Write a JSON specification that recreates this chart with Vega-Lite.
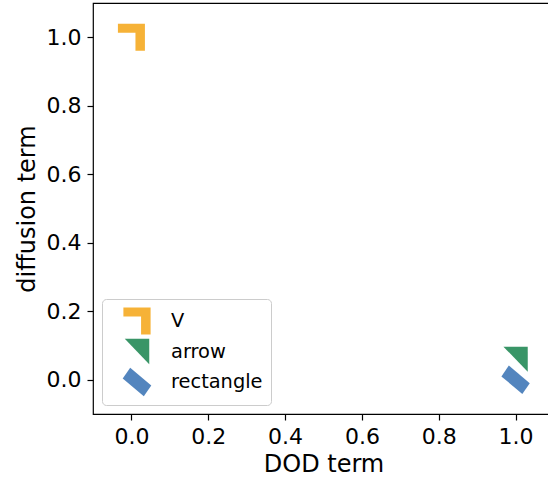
{
  "$schema": "https://vega.github.io/schema/vega-lite/v6.json",
  "width": 461,
  "height": 411,
  "autosize": "none",
  "padding": {"left": 93, "top": 3, "right": 0, "bottom": 66},
  "data": {"values": [
    {"dod": 0.0, "diffusion": 1.0, "marker": "V"},
    {"dod": 1.0, "diffusion": 0.06, "marker": "arrow"},
    {"dod": 1.0, "diffusion": 0.0, "marker": "rectangle"}
  ]},
  "mark": {"type": "point", "filled": true, "size": 729, "opacity": 0.95, "strokeWidth": 1, "strokeOpacity": 0.95, "strokeJoin": "round"},
  "encoding": {
    "x": {"field": "dod", "type": "quantitative",
      "scale": {"domain": [-0.1, 1.1], "nice": false, "zero": false},
      "axis": {"title": "DOD term", "values": [0, 0.2, 0.4, 0.6, 0.8, 1.0], "format": ".1f"}},
    "y": {"field": "diffusion", "type": "quantitative",
      "scale": {"domain": [-0.1, 1.1], "nice": false, "zero": false},
      "axis": {"title": "diffusion term", "values": [0, 0.2, 0.4, 0.6, 0.8, 1.0], "format": ".1f"}},
    "color": {"field": "marker", "type": "nominal",
      "scale": {"domain": ["V", "arrow", "rectangle"], "range": ["#f5ae2c", "#2e8f5f", "#4a7ebb"]},
      "legend": {"title": null}},
    "shape": {"field": "marker", "type": "nominal",
      "scale": {"domain": ["V", "arrow", "rectangle"],
        "range": ["M-1,-1L1,-1L1,1L0.3,1L0.3,-0.33L-1,-0.33Z", "M-0.9,-0.93L0.9,-0.93L0.9,0.93Z", "M-0.5,-1.05L-1.05,-0.25L0.5,1.05L1.05,0.25Z"]},
      "legend": {"title": null}}
  },
  "config": {
    "font": "DejaVu Sans",
    "view": {"stroke": "black", "strokeWidth": 1.2},
    "axis": {"grid": false, "domain": false, "tickColor": "black", "tickSize": 6, "tickWidth": 1.2,
      "labelFontSize": 22, "labelColor": "black", "labelFlush": false, "labelOverlap": false, "labelPadding": 6,
      "titleFontSize": 24, "titleFontWeight": "normal", "titleColor": "black"},
    "axisX": {"titlePadding": 5},
    "axisY": {"titlePadding": 7},
    "legend": {"orient": "bottom-left", "offset": 9, "padding": 8, "strokeColor": "#cccccc",
      "fillColor": "rgba(255,255,255,0.8)", "cornerRadius": 4, "labelFontSize": 19.4, "labelColor": "black",
      "symbolSize": 740, "symbolOffset": 13, "labelOffset": 20, "rowPadding": 2.5, "symbolStrokeWidth": 0, "symbolOpacity": 0.95}
  }
}
